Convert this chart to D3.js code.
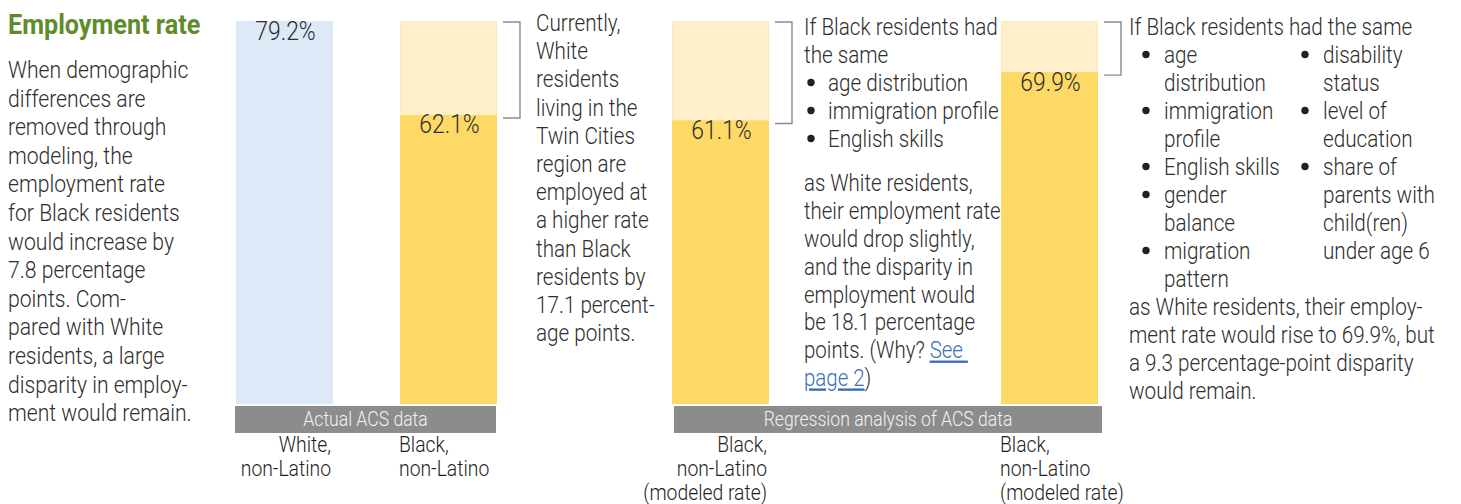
<!DOCTYPE html>
<html>
<head>
<meta charset="utf-8">
<script src="https://cdn.jsdelivr.net/npm/d3@7"></script>
<style>
  body { margin: 0; background: #fff; }
  svg text { font-family: Roboto, "Liberation Sans", sans-serif; font-weight: 300; }
</style>
</head>
<body>
<svg id="chart" width="1461" height="504"></svg>
<script>
// ---- data ----
const categories = [
  "White, non-Latino",
  "Black, non-Latino",
  "Black, non-Latino (modeled rate)",
  "Black, non-Latino (modeled rate) ",
];
const categoryLines = [
  ["White,", "non-Latino"],
  ["Black,", "non-Latino"],
  ["Black,", "non-Latino", "(modeled rate)"],
  ["Black,", "non-Latino", "(modeled rate)"],
];
const rates = [79.2, 62.1, 61.1, 69.9];
const whiteRate = 79.2;               // benchmark shown as the pale portion of the Black bars
const panels = ["Actual ACS data", "Regression analysis of ACS data"];
const panelOfBar = [0, 0, 1, 1];

const title = "Employment rate";
const introLines = [
  "When demographic", "differences are", "removed through", "modeling, the",
  "employment rate", "for Black residents", "would increase by", "7.8 percentage",
  "points. Com-", "pared with White", "residents, a large", "disparity in employ-",
  "ment would remain."
];
const note1Lines = [
  "Currently,", "White", "residents", "living in the", "Twin Cities", "region are",
  "employed at", "a higher rate", "than Black", "residents by", "17.1 percent-", "age points."
];
const note2Head = ["If Black residents had", "the same"];
const note2Bullets = ["age distribution", "immigration profile", "English skills"];
const note2Tail = [
  "as White residents,", "their employment rate", "would drop slightly,",
  "and the disparity in", "employment would", "be 18.1 percentage"
];
const note3Head = "If Black residents had the same";
const note3BulletsLeft = [["age", "distribution"], ["immigration", "profile"], ["English skills"], ["gender", "balance"], ["migration", "pattern"]];
const note3BulletsRight = [["disability", "status"], ["level of", "education"], ["share of", "parents with", "child(ren)", "under age 6"]];
const note3Tail = [
  "as White residents, their employ-",
  "ment rate would rise to 69.9%, but",
  "a 9.3 percentage-point disparity",
  "would remain."
];

// ---- layout ----
const colors = {
  white: "#dde9f7", black: "#ffd966", ghost: "#fff0cb", ghostEdge: "#fbe8bb",
  band: "#8c8c8c", text: "#2e2e2e", title: "#5e8c2b", bracket: "#8a8a8a", link: "#3a6db5"
};
// column widths across the page: intro | bar | gap | bar | note | bar | note | bar | note
const columns = [236, 97, 67, 97, 175, 97, 232, 97];
const colStarts = d3.cumsum([0, ...columns]);
const barCols = [1, 3, 5, 7];
const x = d3.scaleOrdinal().domain(categories).range(barCols.map(c => colStarts[c]));
const barW = 97;
const plotTop = 21, plotBottom = 404;
const y = d3.scaleLinear().domain([9.5, whiteRate]).range([plotBottom, plotTop]);

const svg = d3.select("#chart");
const fs = 23.5;
const SX = 0.88;   // horizontal condensing for a narrow face

// a block of condensed text lines anchored at (x0, y0)
function lines(parent, arr, x0, y0, step, opts = {}) {
  const sx = opts.sx || SX;
  const g = parent.append("g").attr("transform", `translate(${x0},${y0}) scale(${sx},1)`);
  const t = g.append("text")
    .attr("font-size", opts.size || fs).attr("fill", opts.fill || colors.text)
    .attr("text-anchor", opts.anchor || "start");
  if (opts.weight) t.style("font-weight", opts.weight);
  arr.forEach((s, i) => t.append("tspan").attr("x", 0).attr("y", i * step).text(s));
  return t;
}

// ---- title + intro ----
lines(svg, [title], 8, 34, 0, { size: 28, weight: 700, fill: colors.title, sx: 0.9 });
lines(svg, introLines, 8, 78, 28.6, { sx: 0.9 });

// ---- bars ----
const bars = svg.append("g");
categories.forEach((c, i) => {
  const x0 = x(c);
  if (i > 0) {
    // pale segment up to the White rate
    bars.append("rect").attr("x", x0 + 0.5).attr("y", y(whiteRate) + 0.5)
      .attr("width", barW - 1).attr("height", y(rates[i]) - y(whiteRate))
      .attr("fill", colors.ghost).attr("stroke", colors.ghostEdge).attr("stroke-width", 1);
  }
  bars.append("rect").attr("x", x0).attr("y", y(rates[i]))
    .attr("width", barW).attr("height", plotBottom - y(rates[i]))
    .attr("fill", i === 0 ? colors.white : colors.black);
  lines(bars, [rates[i].toFixed(1) + "%"], x0 + barW / 2 + 1, y(rates[i]) + 18.5, 0,
    { size: 26, anchor: "middle" });
});

// ---- brackets showing the gap to the White rate ----
categories.slice(1).forEach((c, j) => {
  const i = j + 1;
  const xr = x(c) + barW;
  const y0 = y(whiteRate) + 1, y1 = y(rates[i]) + 3;
  svg.append("path")
    .attr("d", `M${xr + 6},${y0}H${xr + 23}V${y1}H${xr + 6}`)
    .attr("fill", "none").attr("stroke", colors.bracket).attr("stroke-width", 1.4);
});

// ---- panel bands ----
panels.forEach((p, k) => {
  const idx = categories.filter((c, i) => panelOfBar[i] === k);
  const x0 = x(idx[0]) - 1 + (k === 1 ? 3 : 0);
  const x1 = x(idx[idx.length - 1]) + barW + (k === 1 ? 4 : -1);
  svg.append("rect").attr("x", x0).attr("y", 406).attr("width", x1 - x0).attr("height", 27)
    .attr("fill", colors.band);
  lines(svg, [p], (x0 + x1) / 2, 426, 0, { size: 20, anchor: "middle", fill: "#f2f2f2" });
});

// ---- category labels ----
const labelAnchor = ["end", "start", "end", "start"];
categories.forEach((c, i) => {
  const ax = labelAnchor[i] === "end" ? x(c) + barW - 2 : x(c) - 1;
  lines(svg, categoryLines[i], ax, 452, 24, { size: 22.5, anchor: labelAnchor[i], fill: "#1e1e1e", sx: 0.86 });
});

// ---- note beside the actual-data bars ----
lines(svg, note1Lines, x(categories[1]) + barW + 39, 31, 28.2);

// ---- note beside first modeled bar ----
const n2x = x(categories[2]) + barW + 35;
lines(svg, note2Head, n2x, 35, 28);
note2Bullets.forEach((b, i) => {
  const by = 35 + (i + 2) * 28;
  svg.append("circle").attr("cx", n2x + 7).attr("cy", by - 8.5).attr("r", 3.7).attr("fill", "#222");
  lines(svg, [b], n2x + 24, by, 28);
});
lines(svg, note2Tail, n2x, 191, 27.9, { sx: 0.87 });
const why = lines(svg, ["points. (Why? "], n2x, 191 + 6 * 27.9, 0, { sx: 0.87 });
why.select("tspan").append("tspan").attr("fill", colors.link)
  .attr("text-decoration", "underline").text("See\u00a0");
const why2 = lines(svg, [""], n2x, 191 + 7 * 27.9, 0, { sx: 0.87 });
why2.select("tspan").append("tspan").attr("fill", colors.link)
  .attr("text-decoration", "underline").text("page 2");
why2.select("tspan").append("tspan").text(")");

// ---- note beside second modeled bar ----
const n3x = x(categories[3]) + barW + 31;
lines(svg, [note3Head], n3x, 35, 28);
function bulletColumn(items, bx, tx) {
  let row = 1;
  items.forEach(item => {
    const by = 35 + row * 28;
    svg.append("circle").attr("cx", bx).attr("cy", by - 8.5).attr("r", 3.7).attr("fill", "#222");
    lines(svg, item, tx, by, 28);
    row += item.length;
  });
}
bulletColumn(note3BulletsLeft, n3x + 17, n3x + 35);
bulletColumn(note3BulletsRight, n3x + 176, n3x + 194);
lines(svg, note3Tail, n3x, 35 + 10 * 28, 28);
</script>
</body>
</html>
